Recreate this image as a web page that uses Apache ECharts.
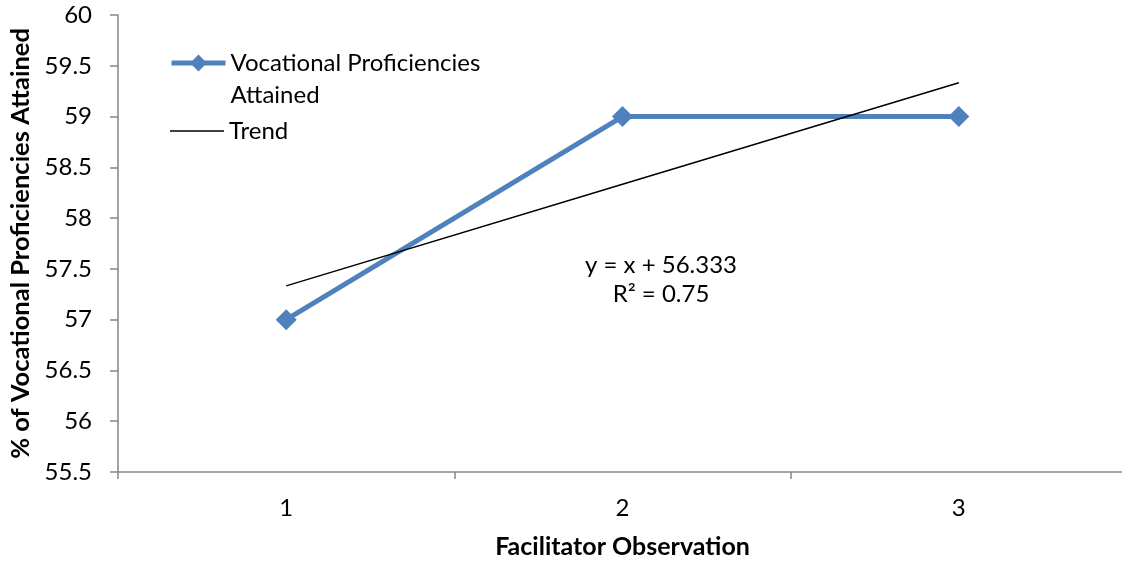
<!DOCTYPE html>
<html>
<head>
<meta charset="utf-8">
<script src="https://cdn.jsdelivr.net/npm/echarts@6/dist/echarts.min.js"></script>
<style>html,body{margin:0;padding:0;background:#fff;}#c{width:1122px;height:562px;}</style>
</head>
<body>
<div id="c"></div>
<script>
var categories = ['1', '2', '3'];
var proficiencyValues = [57, 59, 59];
var trendValues = [57.333, 58.333, 59.333];
var equationText = 'y = x + 56.333';
var rSquaredText = 'R² = 0.75';
var seriesName = 'Vocational Proficiencies\nAttained';
var trendName = 'Trend';

var FONT = 'Lato';
var chart = echarts.init(document.getElementById('c'), null, {renderer: 'canvas'});
chart.setOption({
  animation: false,
  backgroundColor: '#fff',
  textStyle: {fontFamily: FONT},
  grid: {left: 118, top: 15, width: 1009, bottom: 90, containLabel: false, outerBoundsMode: 'none'},
  legend: [
    {
      data: [seriesName], orient: 'vertical', left: 169, top: 15, padding: 0,
      itemWidth: 54, itemHeight: 21,
      formatter: function (n) { return ' \n' + n; },
      lineStyle: {width: 5},
      textStyle: {fontFamily: FONT, fontSize: 24, color: '#000', lineHeight: 32}
    },
    {
      data: [{name: trendName, icon: 'path://M0,0H54V1.5H0Z'}], orient: 'vertical', left: 170, top: 115, padding: 0,
      itemWidth: 54, itemHeight: 20, symbolKeepAspect: true,
      textStyle: {fontFamily: FONT, fontSize: 24, color: '#000', lineHeight: 32}
    }
  ],
  xAxis: {
    type: 'category', data: categories, boundaryGap: true,
    name: 'Facilitator Observation', nameLocation: 'middle', nameGap: 62,
    nameTextStyle: {fontFamily: FONT, fontSize: 25, fontWeight: 'bold', color: '#000'},
    axisLine: {lineStyle: {color: '#868686', width: 1.5}},
    axisTick: {show: true, length: 7, interval: 0, lineStyle: {color: '#868686', width: 1.5}},
    axisLabel: {fontFamily: FONT, fontSize: 24, color: '#000', margin: 24},
    splitLine: {show: false}
  },
  yAxis: {
    type: 'value', min: 55.5, max: 60, interval: 0.5,
    name: '% of Vocational Proficiencies Attained', nameLocation: 'middle', nameGap: 84,
    nameTextStyle: {fontFamily: FONT, fontSize: 25.5, fontWeight: 'bold', color: '#000'},
    axisLine: {show: true, lineStyle: {color: '#868686', width: 1.5}},
    axisTick: {show: true, length: 8, lineStyle: {color: '#868686', width: 1.5}},
    axisLabel: {fontFamily: FONT, fontSize: 24, color: '#000', margin: 26},
    splitLine: {show: false}
  },
  series: [
    {
      name: seriesName, type: 'line', data: proficiencyValues,
      symbol: 'diamond', symbolSize: 21, showSymbol: true,
      lineStyle: {color: '#4F81BD', width: 5},
      itemStyle: {color: '#4F81BD'}, z: 2
    },
    {
      name: trendName, type: 'line', data: trendValues,
      symbol: 'none', lineStyle: {color: '#000', width: 1.5},
      itemStyle: {color: '#000'}, z: 3
    }
  ],
  graphic: [
    {type: 'text', x: 661, y: 265, style: {text: equationText, font: '24px ' + FONT, fill: '#000', align: 'center', verticalAlign: 'middle'}},
    {type: 'text', x: 661, y: 294, style: {text: rSquaredText, font: '24px ' + FONT, fill: '#000', align: 'center', verticalAlign: 'middle'}}
  ]
});
</script>
</body>
</html>
